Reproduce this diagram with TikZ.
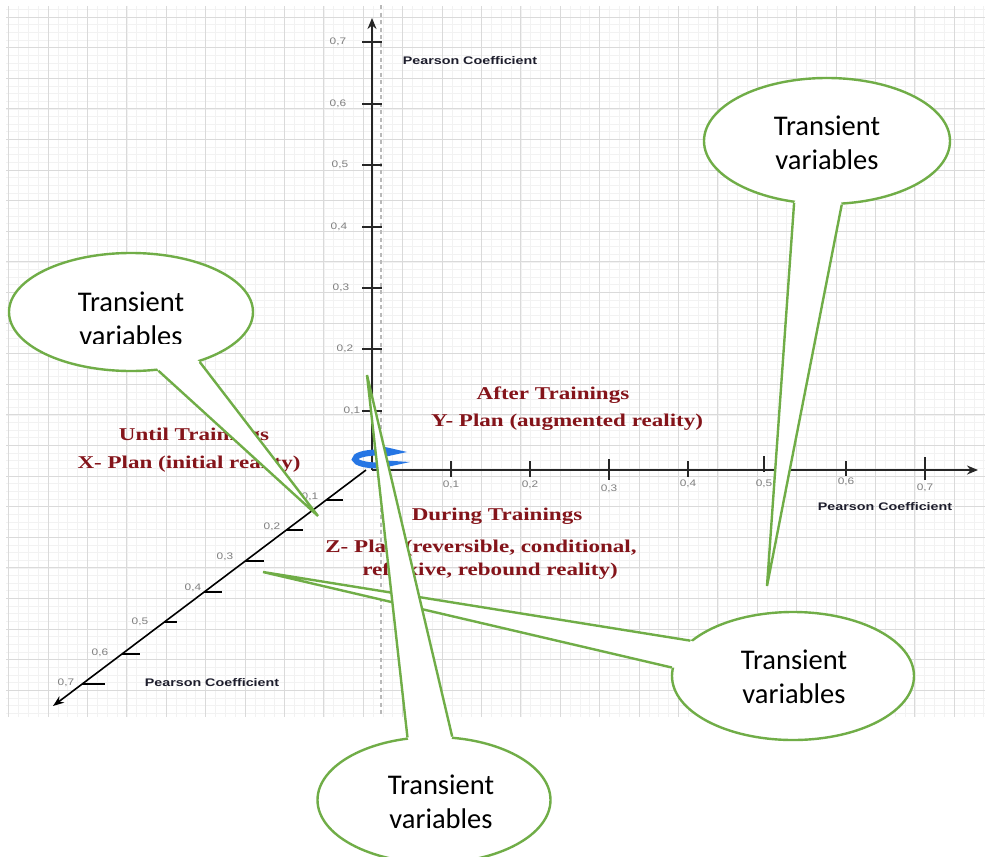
\documentclass[tikz,border=0pt]{standalone}
\usepackage{fontspec}
\usetikzlibrary{arrows.meta,calc,shapes.geometric}
\newfontfamily\axisfont[FakeStretch=1.3]{Liberation Sans}
\newfontfamily\numfont[FakeStretch=1.25]{Liberation Sans}
\newfontfamily\planfont[FakeStretch=1.28]{Liberation Serif}
\newfontfamily\bubblefont{Carlito}
\definecolor{gridmajor}{RGB}{218,218,218}
\definecolor{gridminor}{RGB}{242,242,242}
\definecolor{planred}{RGB}{132,20,26}
\definecolor{bubblegreen}{RGB}{112,173,71}
\definecolor{iconblue}{RGB}{38,118,228}
\definecolor{axisdark}{RGB}{38,38,38}
\definecolor{titledark}{RGB}{30,30,45}

\begin{document}
\begin{tikzpicture}[x=1pt,y=-1pt,
  minorline/.style={gridminor,line width=0.6pt},
  majorline/.style={gridmajor,line width=0.9pt},
  axisline/.style={axisdark,line width=2.2pt},
  tickline/.style={axisdark,line width=1.8pt},
  ticklabel/.style={text=gray,font=\numfont\fontsize{9.5}{10}\selectfont,inner sep=0pt},
  axistitle/.style={text=titledark,font=\axisfont\bfseries\fontsize{11}{13}\selectfont,inner sep=0pt},
  plantext/.style={text=planred,font=\planfont\bfseries\fontsize{18}{20}\selectfont,inner sep=0pt},
  bubble/.style={ellipse,draw=bubblegreen,line width=2.4pt,fill=white,inner sep=0pt},
  bubbleedge/.style={draw=bubblegreen,line width=2.4pt,line join=miter},
  bubbletext/.style={font=\bubblefont\fontsize{28.5}{34.5}\selectfont,align=center,inner sep=0pt,text=black},
]
\fill[white] (0,0) rectangle (991,857);
\useasboundingbox (0,0) rectangle (991,857);
\clip (0,0) rectangle (991,857);

% grid paper
\foreach \i in {0,...,99} \draw[minorline] ({8.6+\i*9.85},6) -- ({8.6+\i*9.85},717);
\foreach \j in {-1,...,91} \draw[minorline] (6,{17+\j*7.65}) -- (985,{17+\j*7.65});
\foreach \i in {0,...,24} \draw[majorline] ({8.6+\i*39.4},6) -- ({8.6+\i*39.4},717);
\foreach \j in {0,...,22} \draw[majorline] (6,{17+\j*30.6}) -- (985,{17+\j*30.6});

% dashed guide
\draw[gray!55,line width=1.3pt,dash pattern=on 4pt off 3.5pt] (381,5) -- (381,717);

% axes
\coordinate (O) at (372,470);
\coordinate (ytop) at (372,18);
\coordinate (xend) at (978,470);
\coordinate (zstart) at (366,470);
\coordinate (zend) at (53,706);
\draw[axisline,-{Stealth[length=11pt,width=9pt]}] (O) -- (ytop);
\draw[axisline,-{Stealth[length=11pt,width=9pt]}] (O) -- (xend);
\draw[black,line width=1.6pt,-{Stealth[length=11pt,width=8pt]}] (zstart) -- (zend);

% vertical ticks
\foreach \lab/\yy/\lx in {{0,1}/411/352,{0,2}/349/345,{0,3}/288/341,{0,4}/227/339,{0,5}/165/340,{0,6}/104/338,{0,7}/42/338}{
  \draw[tickline] (362,\yy) -- (382,\yy);
  \node[ticklabel] (vl\yy) at (\lx,\yy) {\lab};
}
% horizontal ticks
\foreach \lab/\xx/\ta/\tb/\ly in {{0,1}/451/461/477/485,{0,2}/530/461/477/485,{0,3}/609/459/480/489,{0,4}/688/461/477/484,{0,5}/764/456/472/484,{0,6}/846/461/476/482,{0,7}/925/457/480/488}{
  \draw[tickline] (\xx,\ta) -- (\xx,\tb);
  \node[ticklabel] (hl\xx) at (\xx,\ly) {\lab};
}
% depth ticks
\foreach \lab/\zx/\zy/\tl/\lx/\ly in {{0,1}/326.2/500/17/310/497,{0,2}/286.4/530/17/272/527,{0,3}/245.3/561/19/225/557,{0,4}/204.2/592/18/193/588,{0,5}/164.4/622/13/140/622,{0,6}/122/654/18/100/653,{0,7}/82.2/684/23/66/683}{
  \draw[black,line width=1.4pt] (\zx,\zy) -- ++(\tl,0);
  \node[ticklabel] (dl\zy) at (\lx,\ly) {\lab};
}

% axis titles
\node[axistitle] (ttop) at (470,61) {Pearson Coefficient};
\node[axistitle] (tright) at (885,507) {Pearson Coefficient};
\node[axistitle] (tleft) at (212,683) {Pearson Coefficient};

% plan labels
\node[plantext] (after) at (553,395) {After Trainings};
\node[plantext] (yplan) at (567,422) {Y- Plan (augmented reality)};
\node[plantext] (until) at (194,436) {Until Trainings};
\node[plantext] (xplan) at (189,464) {X- Plan (initial reality)};
\node[plantext] (during) at (497,516) {During Trainings};
\node[plantext] (zplan) at (481,548) {Z- Plan (reversible, conditional,};
\node[plantext] (zplan2) at (490,571) {reflexive, rebound reality)};

% rotation icon at the origin
\draw[iconblue,line width=6pt] (378,459) ++(-70:23 and 6.5) arc[start angle=-70,end angle=-300,x radius=23,y radius=6.5];
\fill[iconblue] (383,446.5) -- (407,452) -- (384,457) -- cycle;
\fill[iconblue] (377,460) -- (410,462) -- (380,468.5) -- cycle;

% callout: upper right
\node[bubble,minimum width=246pt,minimum height=126pt] (tr) at (827,141) {};
\coordinate (trtip) at (767,586);
\fill[white] ($(tr.center)!0.85!(tr.-118)$) -- (tr.-118) -- (trtip) -- (tr.-77) -- ($(tr.center)!0.85!(tr.-77)$) -- cycle;
\draw[bubbleedge] (tr.-118) -- (trtip) -- (tr.-77);
\node[bubbletext] (trtext) at (827,143) {Transient\\variables};

% callout: left
\node[bubble,minimum width=244pt,minimum height=118pt] (lf) at (131,312) {};
\coordinate (lftip) at (318,516);
\fill[white] ($(lf.center)!0.85!(lf.-65)$) -- (lf.-65) -- (lftip) -- (lf.-36) -- ($(lf.center)!0.85!(lf.-36)$) -- cycle;
\draw[bubbleedge] (lf.-65) -- (lftip) -- (lf.-36);
\begin{scope}
  \clip (0,0) rectangle (400,343);
  \node[bubbletext] (lftext) at (131,319) {Transient\\variables};
\end{scope}

% callout: lower right
\node[bubble,minimum width=242pt,minimum height=128pt] (br) at (793,676) {};
\coordinate (brtip) at (263,572);
\fill[white] ($(br.center)!0.85!(br.161)$) -- (br.161) -- (brtip) -- (br.176) -- ($(br.center)!0.85!(br.176)$) -- cycle;
\draw[bubbleedge] (br.161) -- (brtip) -- (br.176);
\node[bubbletext] (brtext) at (794,677) {Transient\\variables};

% callout: bottom
\node[bubble,minimum width=233pt,minimum height=126pt] (bt) at (434,800) {};
\coordinate (bttip) at (367,375);
\fill[white] ($(bt.center)!0.85!(bt.113)$) -- (bt.113) -- (bttip) -- (bt.74) -- ($(bt.center)!0.85!(bt.74)$) -- cycle;
\draw[bubbleedge] (bt.113) -- (bttip) -- (bt.74);
\node[bubbletext] (bttext) at (441,802) {Transient\\variables};
\end{tikzpicture}
\end{document}
